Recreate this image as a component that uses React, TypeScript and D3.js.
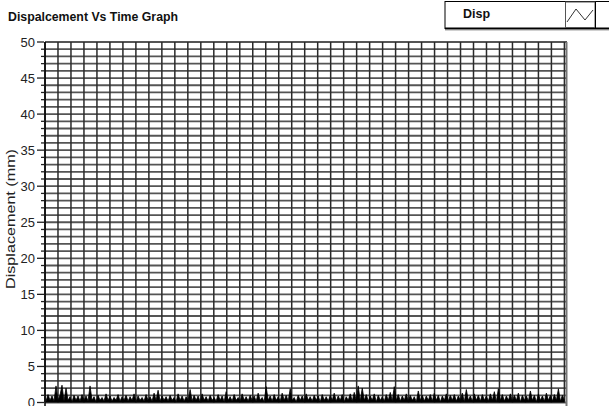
import React from "react";
import * as d3 from "d3";

const W = 609;
const H = 406;

const chartTitle = "Dispalcement Vs Time Graph";
const yAxisTitle = "Displacement (mm)";
const legendLabel = "Disp";
const yTicks = [0, 5, 10, 15, 20, 25, 30, 35, 40, 45, 50];

// displacement samples (mm), evenly spaced in time across the plotted window
const dispValues = [
  0.2, 1.1, 0.3, 0.9, 0.2, 2.3, 0.3, 1.0, 2.4, 0.2, 2.0, 0.3, 0.8, 0.1, 1.0, 0.3, 0.9, 0.2, 1.1, 0.3,
  0.9, 0.2, 2.3, 0.3, 0.8, 0.1, 1.0, 0.3, 0.7, 0.2, 1.2, 0.3, 0.9, 0.2, 0.7, 0.3, 1.1, 0.2, 0.8, 0.3,
  1.0, 0.2, 0.8, 0.3, 1.2, 0.1, 0.9, 0.3, 0.7, 0.2, 1.1, 0.3, 0.8, 0.2, 1.3, 0.3, 1.7, 0.2, 0.9, 0.3,
  0.8, 0.2, 1.0, 0.3, 0.7, 0.1, 1.2, 0.3, 0.9, 0.2, 0.8, 0.3, 1.8, 0.2, 1.0, 0.3, 0.9, 0.1, 1.2, 0.3,
  0.8, 0.2, 1.0, 0.3, 0.7, 0.2, 1.1, 0.3, 0.9, 0.1, 1.5, 0.3, 0.8, 0.2, 1.1, 0.3, 0.7, 0.2, 1.2, 0.3,
  0.8, 0.2, 1.0, 0.3, 0.9, 0.2, 1.3, 0.3, 0.7, 0.1, 2.2, 0.3, 0.9, 0.2, 1.1, 0.3, 0.8, 0.2, 1.3, 0.3,
  1.0, 0.2, 1.9, 0.3, 0.7, 0.1, 1.0, 0.3, 0.9, 0.2, 1.2, 0.3, 0.8, 0.2, 1.0, 0.3, 0.9, 0.1, 1.1, 0.3,
  0.8, 0.2, 1.0, 0.3, 1.3, 0.2, 0.9, 0.3, 1.1, 0.1, 0.8, 0.3, 1.2, 0.2, 1.4, 0.3, 2.3, 0.2, 2.0, 0.3,
  1.1, 0.2, 0.9, 0.3, 1.2, 0.1, 1.0, 0.3, 0.8, 0.2, 1.1, 0.3, 1.4, 0.2, 2.2, 0.3, 1.1, 0.2, 0.9, 0.3,
  1.2, 0.2, 1.0, 0.3, 0.8, 0.1, 1.6, 0.3, 1.0, 0.2, 0.9, 0.3, 1.1, 0.2, 1.3, 0.3, 1.0, 0.1, 0.9, 0.3,
  1.2, 0.2, 1.0, 0.3, 1.1, 0.2, 0.9, 0.3, 1.3, 0.1, 1.8, 0.3, 0.9, 0.2, 1.2, 0.3, 1.0, 0.2, 1.1, 0.3,
  0.9, 0.2, 1.2, 0.3, 1.5, 0.1, 1.9, 0.3, 1.1, 0.2, 0.9, 0.3, 1.2, 0.2, 1.0, 0.3, 1.3, 0.1, 1.0, 0.3,
  0.9, 0.2, 1.6, 0.3, 1.0, 0.1, 1.2, 0.3, 0.9, 0.2, 1.3, 0.3, 1.0, 0.2, 1.1, 0.3, 1.9, 0.2, 1.0, 0.3,
];

const plot = { left: 45, right: 567, top: 42, bottom: 402.5 };
const xDivisions = 40; // vertical grid divisions across the window

export default function App() {
  const y = d3.scaleLinear().domain([0, 50]).range([plot.bottom, plot.top]);
  const xGrid = d3
    .scaleLinear()
    .domain([0, xDivisions + 0.2])
    .range([plot.left, plot.right]);
  const xSample = d3
    .scaleLinear()
    .domain([0, dispValues.length - 1])
    .range([xGrid(0) + 1, xGrid(xDivisions)]);

  const minorY = d3.range(0, 51, 1);
  const vLines = d3.range(0, xDivisions + 1, 1);

  const area = d3
    .area<number>()
    .x((_, i) => xSample(i))
    .y0(y(0))
    .y1((d) => y(d));
  const line = d3
    .line<number>()
    .x((_, i) => xSample(i))
    .y((d) => y(d));

  const font = "'Liberation Sans', Arial, sans-serif";

  return (
    <svg
      width={W}
      height={H}
      style={{ position: "absolute", left: 0, top: 0, background: "#fff" }}
      fontFamily={font}
    >
      <rect x={0} y={0} width={W} height={H} fill="#fff" />

      {/* title */}
      <text x={8} y={21} fontSize={12} fontWeight="bold" fill="#111" textLength={170} lengthAdjust="spacingAndGlyphs">
        {chartTitle}
      </text>

      {/* legend */}
      <g>
        <rect x={445} y={1.5} width={170} height={27} fill="#fff" stroke="#000" strokeWidth={1} />
        <line x1={445} x2={609} y1={28.5} y2={28.5} stroke="#000" strokeWidth={2} />
        <line x1={445} x2={609} y1={30.5} y2={30.5} stroke="#d0d0d0" strokeWidth={1} />
        <text x={463} y={18} fontSize={12.5} fontWeight="bold" fill="#111">
          {legendLabel}
        </text>
        <rect x={565.5} y={2} width={29.5} height={25.5} fill="#fff" stroke="#555" strokeWidth={1} />
        <polyline
          points="567,22 576,9 585,20 593,10"
          fill="none"
          stroke="#333"
          strokeWidth={1}
        />
        <line x1={595.5} x2={595.5} y1={2} y2={28} stroke="#000" strokeWidth={1} />
      </g>

      {/* plot background */}
      <rect
        x={plot.left}
        y={plot.top}
        width={plot.right - plot.left}
        height={plot.bottom - plot.top}
        fill="#fff"
      />

      {/* horizontal grid */}
      {minorY.map((v) => (
        <line
          key={`h${v}`}
          x1={plot.left}
          x2={plot.right}
          y1={y(v)}
          y2={y(v)}
          stroke="#555"
          strokeWidth={1.8}
        />
      ))}

      {/* vertical grid */}
      {vLines.map((v) => (
        <line
          key={`v${v}`}
          x1={xGrid(v)}
          x2={xGrid(v)}
          y1={plot.top}
          y2={plot.bottom}
          stroke="#2a2a2a"
          strokeWidth={1.5}
        />
      ))}
      <line
        x1={plot.right - 0.5}
        x2={plot.right - 0.5}
        y1={plot.top}
        y2={H}
        stroke="#777"
        strokeWidth={2}
      />

      {/* displacement trace */}
      <path d={area(dispValues) || ""} fill="#000" />
      <path d={line(dispValues) || ""} fill="none" stroke="#000" strokeWidth={0.8} />

      {/* y axis */}
      <line x1={plot.left} x2={plot.left} y1={plot.top} y2={H} stroke="#000" strokeWidth={1.5} />
      {minorY.map((v) => (
        <line
          key={`t${v}`}
          x1={v % 5 === 0 ? plot.left - 8 : plot.left - 4}
          x2={plot.left - 1}
          y1={y(v)}
          y2={y(v)}
          stroke="#222"
          strokeWidth={1.3}
        />
      ))}
      {yTicks.map((v) => (
        <text
          key={`l${v}`}
          x={plot.left - 10}
          y={y(v)}
          dy="0.36em"
          textAnchor="end"
          fontSize={13}
          fill="#222"
        >
          {v}
        </text>
      ))}
      <text
        transform={`translate(15, ${(148 + 290) / 2}) rotate(-90)`}
        textAnchor="middle"
        fontSize={12}
        fill="#222"
        textLength={140}
        lengthAdjust="spacingAndGlyphs"
      >
        {yAxisTitle}
      </text>
    </svg>
  );
}
